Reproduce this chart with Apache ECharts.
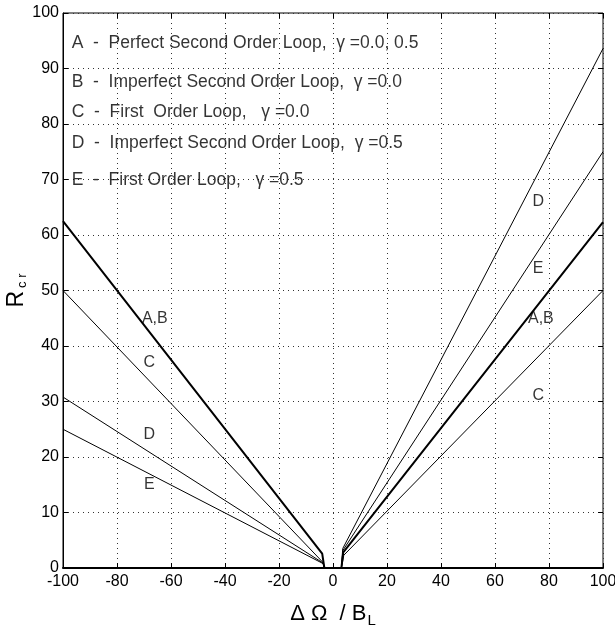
<!DOCTYPE html>
<html>
<head>
<meta charset="utf-8">
<script src="https://cdn.jsdelivr.net/npm/echarts@6/dist/echarts.min.js"></script>
<style>
  html, body { margin: 0; padding: 0; background: #fff; }
  #main { width: 615px; height: 627px; }
</style>
</head>
<body>
<div id="main"></div>
<script>
// curves: [dOmega/BL, Rcr]
var abLeft = [[-100, 62.5], [-4.0, 2.6], [-3.2, 0]];
var cLeft = [[-100, 50], [-3.7, 1.0], [-3.1, 0]];
var dLeft = [[-100, 30.8], [-3.7, 0.9], [-3.1, 0]];
var eLeft = [[-100, 25], [-3.7, 0.8], [-3.1, 0]];
var dRight = [[3.1, 0], [3.6, 3.5], [100, 93.6]];
var eRight = [[3.1, 0], [3.7, 3.2], [100, 75]];
var abRight = [[3.1, 0], [3.8, 2.8], [100, 62.3]];
var cRight = [[3.1, 0], [4.0, 2.3], [100, 50]];

var curveTags = [['A,B', -66, 45], ['C', -68, 37], ['D', -68, 24], ['E', -68, 15],
                 ['D', 76, 66], ['E', 76, 54], ['A,B', 77, 45], ['C', 76, 31]];

var legendLines = [
    'A  -  Perfect Second Order Loop,  \u03b3 =0.0, 0.5',
    'B  -  Imperfect Second Order Loop,  \u03b3 =0.0',
    'C  -  First  Order Loop,   \u03b3 =0.0',
    'D  -  Imperfect Second Order Loop,  \u03b3 =0.5',
    'E  -  First Order Loop,   \u03b3 =0.5'
];
var legendY = [94.5, 87.6, 82.2, 76.5, 69.9];
var legendX = -96.8;

var xTicks = [-100, 100, 20];
var yTicks = [0, 100, 10];

var FONT = '"Liberation Sans", Arial, Helvetica, sans-serif';

var myChart = echarts.init(document.getElementById('main'));

function curve(data, w) {
    return {
        type: 'line',
        data: data,
        symbol: 'none',
        silent: true,
        lineStyle: { color: '#000', width: w }
    };
}

var series = [
    curve(abLeft, 2), curve(cLeft, 1), curve(dLeft, 1), curve(eLeft, 1),
    curve(dRight, 1), curve(eRight, 1), curve(abRight, 2), curve(cRight, 1)
];

series.push({
    type: 'scatter',
    symbolSize: 0,
    silent: true,
    data: curveTags.map(function (t) { return { value: [t[1], t[2]], name: t[0] }; }),
    label: {
        show: true,
        position: 'inside',
        formatter: '{b}',
        color: '#000',
        fontSize: 16,
        fontFamily: FONT
    }
});

series.push({
    type: 'scatter',
    symbolSize: 0,
    silent: true,
    data: legendLines.map(function (t, i) { return { value: [legendX, legendY[i]], name: t }; }),
    label: {
        show: true,
        position: 'inside',
        align: 'left',
        verticalAlign: 'middle',
        formatter: '{b}',
        color: '#000',
        fontSize: 17.5,
        fontFamily: FONT
    }
});

option = {
    backgroundColor: '#fff',
    animation: false,
    grid: {
        left: 63,
        right: 12,
        top: 13,
        bottom: 59,
        show: true,
        borderColor: '#000',
        borderWidth: 1,
        outerBoundsMode: 'none'
    },
    xAxis: [{
        type: 'value',
        min: xTicks[0],
        max: xTicks[1],
        interval: xTicks[2],
        name: '{a|\u0394 \u03a9  / B}{s|L}',
        nameLocation: 'middle',
        nameGap: 32,
        nameMoveOverlap: false,
        nameTextStyle: {
            rich: {
                a: { fontSize: 22, fontFamily: FONT, color: '#000' },
                s: { fontSize: 15, fontFamily: FONT, color: '#000', padding: [13, 0, 0, 1] }
            }
        },
        axisLine: { onZero: false, lineStyle: { color: '#000', width: 2 } },
        axisTick: { inside: true, length: 5, lineStyle: { color: '#000' } },
        axisLabel: { color: '#000', fontSize: 16, fontFamily: FONT, margin: 6 },
        splitLine: { lineStyle: { color: '#333', type: [1, 4], width: 1 } }
    }, {
        type: 'value',
        position: 'top',
        min: xTicks[0],
        max: xTicks[1],
        interval: xTicks[2],
        axisLine: { show: false, onZero: false },
        axisTick: { inside: true, length: 5, lineStyle: { color: '#000' } },
        axisLabel: { show: false },
        splitLine: { show: false }
    }],
    yAxis: [{
        type: 'value',
        min: yTicks[0],
        max: yTicks[1],
        interval: yTicks[2],
        name: '{a|R}{s|c r}',
        nameLocation: 'middle',
        nameGap: 34,
        nameMoveOverlap: false,
        nameTextStyle: {
            rich: {
                a: { fontSize: 23, fontFamily: FONT, color: '#000' },
                s: { fontSize: 13, fontFamily: FONT, color: '#000', padding: [12, 0, 0, 3] }
            }
        },
        axisLine: { onZero: false, lineStyle: { color: '#000', width: 1 } },
        axisTick: { inside: true, length: 5, lineStyle: { color: '#000' } },
        axisLabel: { color: '#000', fontSize: 16, fontFamily: FONT, margin: 4 },
        splitLine: { lineStyle: { color: '#333', type: [1, 4], width: 1 } }
    }, {
        type: 'value',
        position: 'right',
        min: yTicks[0],
        max: yTicks[1],
        interval: yTicks[2],
        axisLine: { show: false, onZero: false },
        axisTick: { inside: true, length: 5, lineStyle: { color: '#000' } },
        axisLabel: { show: false },
        splitLine: { show: false }
    }],
    series: series
};
myChart.setOption(option);
</script>
</body>
</html>
